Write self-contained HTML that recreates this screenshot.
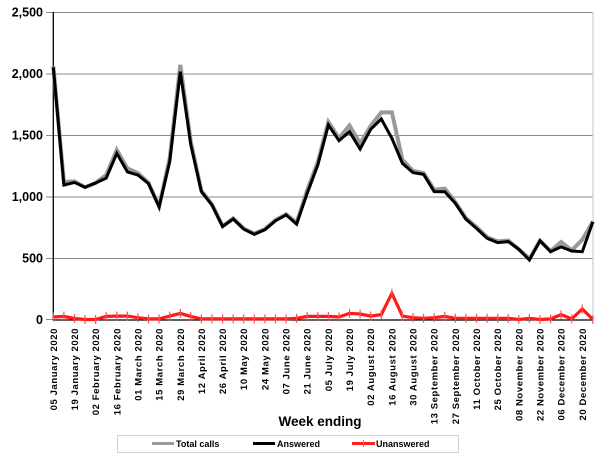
<!DOCTYPE html>
<html><head><meta charset="utf-8"><style>
html,body{margin:0;padding:0;background:#fff;}
svg{display:block;font-family:"Liberation Sans",Arial,sans-serif;}
</style></head><body>
<svg id="c" width="614" height="463" viewBox="0 0 614 463" xmlns="http://www.w3.org/2000/svg">
<rect width="614" height="463" fill="#fff"/>
<g stroke="#8a8a8a" stroke-width="1">
<line x1="46" y1="12.5" x2="593" y2="12.5"/>
<line x1="46" y1="74" x2="593" y2="74"/>
<line x1="46" y1="135.5" x2="593" y2="135.5"/>
<line x1="46" y1="197" x2="593" y2="197"/>
<line x1="46" y1="258.5" x2="593" y2="258.5"/>
<line x1="46" y1="319.5" x2="53" y2="319.5"/>
</g>
<line x1="593" y1="12" x2="593" y2="320" stroke="#cfcfcf" stroke-width="1.2"/>
<line x1="53.3" y1="12" x2="53.3" y2="320" stroke="#000" stroke-width="1.3"/>
<line x1="53" y1="320" x2="593" y2="320" stroke="#000" stroke-width="1.3"/>
<g font-size="12.5" font-weight="bold" text-anchor="end" fill="#000">
<text x="43" y="16.5">2,500</text>
<text x="43" y="78">2,000</text>
<text x="43" y="139.5">1,500</text>
<text x="43" y="201">1,000</text>
<text x="43" y="262.5">500</text>
<text x="43" y="324">0</text>
</g>
<g id="series"></g>
<g id="xl" font-size="9.5" font-weight="bold" letter-spacing="0.6" text-anchor="end" fill="#000"></g>
<text x="320" y="426" font-size="13.5" font-weight="bold" text-anchor="middle">Week ending</text>
<rect x="117.5" y="435.5" width="341" height="17" fill="#fff" stroke="#d0d0d0" stroke-width="1"/>
<line x1="152" y1="443.5" x2="174" y2="443.5" stroke="#999" stroke-width="3"/>
<text x="176" y="447" font-size="9" font-weight="bold">Total calls</text>
<line x1="253" y1="443.5" x2="275" y2="443.5" stroke="#000" stroke-width="3"/>
<text x="277" y="447" font-size="9" font-weight="bold">Answered</text>
<line x1="352" y1="443.5" x2="375" y2="443.5" stroke="#ff2020" stroke-width="3"/>
<line x1="363.5" y1="440" x2="363.5" y2="447" stroke="#ff6060" stroke-width="1"/>
<text x="376" y="447" font-size="9" font-weight="bold">Unanswered</text>
</svg>
<script>
(function(){
var ans=[2050,1093,1115,1075,1110,1150,1350,1200,1175,1105,915,1283,2015,1420,1040,930,755,817,735,693,730,803,850,776,1026,1256,1581,1454,1527,1386,1546,1630,1473,1270,1194,1180,1040,1039,945,815,741,660,625,633,571,484,641,551,590,557,551,795];
var un=[20,25,8,0,0,25,28,28,15,5,5,28,50,25,5,5,5,5,5,5,5,5,5,10,25,25,25,20,50,45,28,40,213,28,15,10,15,25,10,10,10,10,10,10,0,10,0,5,40,5,85,0];
var X=function(i){return 53.3+10.58*i;};
var Y=function(v){return 319.5-v*0.123;};
var ns="http://www.w3.org/2000/svg";
var g=document.getElementById("series");
function poly(vals,col,w){
 var p=vals.map(function(v,i){return X(i).toFixed(1)+","+Y(v).toFixed(1);}).join(" ");
 var e=document.createElementNS(ns,"polyline");
 e.setAttribute("points",p);e.setAttribute("fill","none");e.setAttribute("stroke",col);
 e.setAttribute("stroke-width",w);e.setAttribute("stroke-linejoin","miter");
 g.appendChild(e);
}
var tot=ans.map(function(v,i){return v+un[i];});
tot[0]=2060;tot[12]=2070;tot[31]=1684;tot[32]=1684;tot[50]=650;
poly(tot,"#999",4);
poly(ans,"#000",3);
poly(un,"#ff1a1a",3.2);
for(var i=0;i<un.length;i++){
 var l=document.createElementNS(ns,"line");
 var y=Y(un[i]);
 l.setAttribute("x1",X(i).toFixed(1));l.setAttribute("x2",X(i).toFixed(1));
 l.setAttribute("y1",(y-4.5).toFixed(1));l.setAttribute("y2",(y+4.5).toFixed(1));
 l.setAttribute("stroke","#ff5050");l.setAttribute("stroke-width","1.2");
 g.appendChild(l);
}
var labels=["05 January 2020","19 January 2020","02 February 2020","16 February 2020","01 March 2020","15 March 2020","29 March 2020","12 April 2020","26 April 2020","10 May 2020","24 May 2020","07 June 2020","21 June 2020","05 July 2020","19 July 2020","02 August 2020","16 August 2020","30 August 2020","13 September 2020","27 September 2020","11 October 2020","25 October 2020","08 November 2020","22 November 2020","06 December 2020","20 December 2020"];
var xl=document.getElementById("xl");
labels.forEach(function(t,k){
 var x=X(2*k)+3.5;
 var e=document.createElementNS(ns,"text");
 e.setAttribute("transform","translate("+x.toFixed(1)+",328) rotate(-90)");
 e.textContent=t;xl.appendChild(e);
});
})();
</script>
</body></html>
